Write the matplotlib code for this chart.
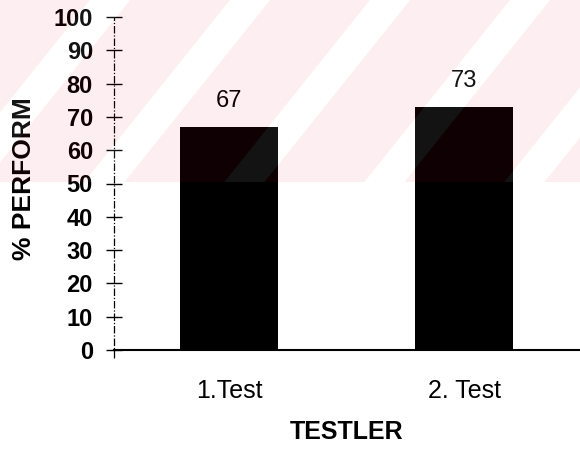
import matplotlib
matplotlib.use("Agg")
import matplotlib.pyplot as plt
from matplotlib.patches import Polygon
import numpy as np

# Chart data
categories = ["1.Test", "2. Test"]
performance = [67, 73]
y_ticks = list(range(0, 101, 10))

plt.rcParams["font.family"] = ["Liberation Sans", "DejaVu Sans"]

W, H = 580, 449
fig = plt.figure(figsize=(W / 100, H / 100), dpi=100, facecolor="white")

# Main axes (pixel layout converted to figure fractions)
ax = fig.add_axes([114 / W, 1 - 350 / H, 466 / W, 333 / H])
x = np.arange(len(categories))
ax.bar(x, performance, width=0.413, color="black", edgecolor="none", zorder=2)
ax.set_xlim(-0.4894, 1.4936)
ax.set_ylim(0, 100)

ax.set_yticks(y_ticks)
ax.set_yticklabels([str(t) for t in y_ticks], fontsize=17, fontweight="bold")
ax.tick_params(axis="y", direction="inout", length=11.5, width=1.0, pad=9.4)

ax.set_xticks(x)
ax.set_xticklabels(categories, fontsize=18)
ax.tick_params(axis="x", length=0, pad=21)

for side in ("top", "right", "left"):
    ax.spines[side].set_visible(False)
ax.spines["bottom"].set_linewidth(1.5)

# Dash-dot vertical axis line that runs slightly below zero
ax.plot([0, 0], [-0.024, 1], transform=ax.transAxes, clip_on=False,
        color="black", lw=0.9, ls=(0, (6, 1.5, 1, 1.5)), zorder=3)

# Value labels above the bars
for xi, v in zip(x, performance):
    ax.annotate(f"{v}", (xi, v), xytext=(0, 14), textcoords="offset points",
                ha="center", va="baseline", fontsize=17)

# Axis titles
fig.text(24 / W, 1 - 179 / H, "% PERFORM", rotation=90, ha="center",
         va="center", fontsize=19, fontweight="bold")
fig.text(347 / W, 1 - 432 / H, "TESTLER", ha="center", va="center",
         fontsize=18, fontweight="bold")

# Faint diagonal pink/white stripe band across the upper part of the figure
band_h = 182
ov = fig.add_axes([0, 1 - band_h / H, 1, band_h / H], zorder=10)
ov.set_xlim(0, W)
ov.set_ylim(band_h, 0)
ov.axis("off")
ov.patch.set_alpha(0)

period, white_w, slant = 140, 40, 0.8
shift = slant * band_h
for c in np.arange(110 - 3 * period, W + 3 * period, period):
    # white stripe
    wl, wr = c - white_w / 2, c + white_w / 2
    ov.add_patch(Polygon([(wl, 0), (wr, 0), (wr - shift, band_h), (wl - shift, band_h)],
                         closed=True, facecolor="white", edgecolor="none", alpha=0.08))
    # pink stripe up to the next white one
    pl, pr = wr, c + period - white_w / 2
    ov.add_patch(Polygon([(pl, 0), (pr, 0), (pr - shift, band_h), (pl - shift, band_h)],
                         closed=True, facecolor=(0.9, 0.1, 0.2), edgecolor="none", alpha=0.065))

fig.savefig("out.png", dpi=100)
